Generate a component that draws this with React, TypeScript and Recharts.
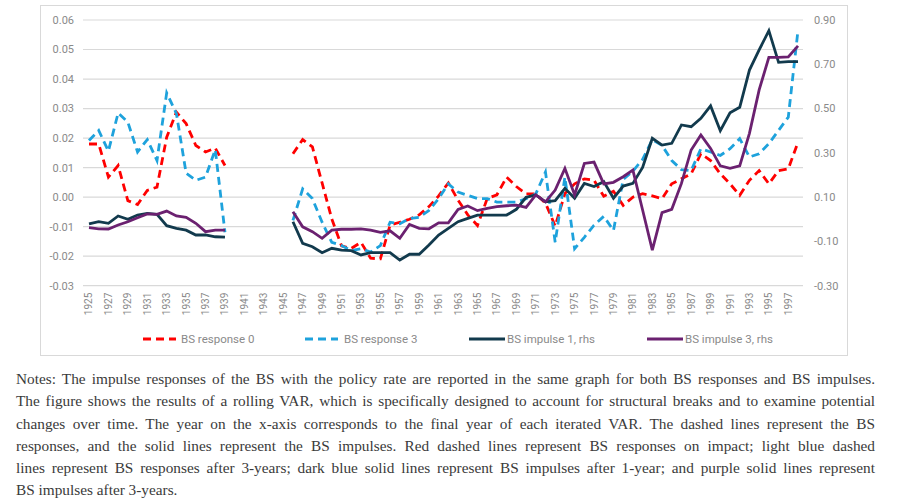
import React from "react";
import { LineChart, Line, XAxis, YAxis, CartesianGrid } from "recharts";

const years: number[] = [
  1925, 1926, 1927, 1928, 1929, 1930, 1931, 1932, 1933, 1934, 1935, 1936, 1937, 1938, 1939,
  1940, 1941, 1942, 1943, 1944, 1945, 1946, 1947, 1948, 1949, 1950, 1951, 1952, 1953, 1954,
  1955, 1956, 1957, 1958, 1959, 1960, 1961, 1962, 1963, 1964, 1965, 1966, 1967, 1968, 1969,
  1970, 1971, 1972, 1973, 1974, 1975, 1976, 1977, 1978, 1979, 1980, 1981, 1982, 1983, 1984,
  1985, 1986, 1987, 1988, 1989, 1990, 1991, 1992, 1993, 1994, 1995, 1996, 1997, 1998,
];

const yearTicks: number[] = [
  1925, 1927, 1929, 1931, 1933, 1935, 1937, 1939, 1941, 1943, 1945, 1947, 1949, 1951, 1953,
  1955, 1957, 1959, 1961, 1963, 1965, 1967, 1969, 1971, 1973, 1975, 1977, 1979, 1981, 1983,
  1985, 1987, 1989, 1991, 1993, 1995, 1997,
];

const bsResponse0: (number | null)[] = [
  0.018, 0.018, 0.0068, 0.0107, -0.0012, -0.0025, 0.0023, 0.0034, 0.0203, 0.0288, 0.0249, 0.0175, 0.0153, 0.0166, 0.0107,
  null, null, null, null, null, null, 0.0147, 0.0195, 0.017, 0.0048, -0.0074, -0.0165, -0.0174, -0.0153, -0.0207,
  -0.0209, -0.0095, -0.0085, -0.0075, -0.006, -0.0032, 0.0004, 0.0048, -0.001, -0.006, -0.0096, -0.0005, 0.0008, 0.0068, 0.0036,
  0.0011, 0.0011, -0.002, -0.0098, 0.0012, 0.0045, 0.0062, 0.0057, 0.0003, 0.002, -0.0028, 0.0, 0.0012, 0.0004, -0.0005,
  0.0045, 0.0062, 0.0079, 0.0147, 0.0124, 0.0079, 0.0045, 0.0006, 0.0057, 0.009, 0.0045, 0.009, 0.0096, 0.0186,
];

const bsResponse3: (number | null)[] = [
  0.0192, 0.0226, 0.0156, 0.0285, 0.0254, 0.0153, 0.0195, 0.0124, 0.0353, 0.0283, 0.0081, 0.0057, 0.0068, 0.0161, -0.0119,
  null, null, null, null, null, null, -0.0079, 0.0028, -0.0005, -0.0085, -0.0153, -0.0164, -0.0181, -0.0175, -0.0186,
  -0.0164, -0.0085, -0.009, -0.0073, -0.0068, -0.0045, -0.0005, 0.0045, 0.0017, 0.0006, -0.0005, -0.0005, -0.0017, -0.0017, -0.0017,
  -0.0005, 0.0011, 0.0085, -0.0153, 0.0068, -0.0175, -0.0136, -0.0095, -0.0065, -0.0113, 0.006, 0.0088, 0.0128, 0.0195, 0.0175,
  0.0124, 0.0093, 0.009, 0.0164, 0.0153, 0.0141, 0.0164, 0.0198, 0.0136, 0.0147, 0.0181, 0.0226, 0.0271, 0.0565,
];

const bsImpulse1: (number | null)[] = [
  -0.021, -0.011, -0.018, 0.015, 0.0, 0.019, 0.027, 0.022, -0.029, -0.041, -0.049, -0.071, -0.071, -0.079, -0.081,
  null, null, null, null, null, null, -0.011, -0.109, -0.124, -0.151, -0.131, -0.139, -0.142, -0.161, -0.151,
  -0.151, -0.151, -0.184, -0.158, -0.158, -0.116, -0.071, -0.041, -0.011, 0.004, 0.019, 0.019, 0.019, 0.019, 0.045,
  0.099, 0.11, 0.079, 0.084, 0.14, 0.095, 0.162, 0.148, 0.17, 0.095, 0.15, 0.162, 0.234, 0.366, 0.335,
  0.343, 0.426, 0.418, 0.456, 0.512, 0.4, 0.481, 0.506, 0.674, 0.765, 0.852, 0.709, 0.712, 0.712,
];

const bsImpulse3: (number | null)[] = [
  -0.038, -0.043, -0.044, -0.026, -0.011, 0.007, 0.024, 0.022, 0.037, 0.015, 0.009, -0.018, -0.056, -0.049, -0.049,
  null, null, null, null, null, null, 0.034, -0.034, -0.056, -0.086, -0.049, -0.045, -0.045, -0.043, -0.049,
  -0.059, -0.052, -0.086, -0.023, -0.041, -0.043, -0.016, -0.016, 0.044, 0.06, 0.039, 0.049, 0.057, 0.061, 0.064,
  0.054, 0.11, 0.079, 0.132, 0.23, 0.11, 0.252, 0.258, 0.16, 0.167, 0.192, 0.222, 0.042, -0.139, 0.03,
  0.045, 0.162, 0.313, 0.381, 0.32, 0.241, 0.23, 0.241, 0.388, 0.584, 0.731, 0.731, 0.733, 0.783,
];

const leftTicks: number[] = [0.06, 0.05, 0.04, 0.03, 0.02, 0.01, 0, -0.01, -0.02, -0.03];
const rightTicks: number[] = [0.9, 0.7, 0.5, 0.3, 0.1, -0.1, -0.3];

const seriesNames = ["BS response 0", "BS response 3", "BS impulse 1, rhs", "BS impulse 3, rhs"];

const noteLines: string[] = [
  "Notes: The impulse responses of the BS with the policy rate are reported in the same graph for both BS responses and BS impulses.",
  "The figure shows the results of a rolling VAR, which is specifically designed to account for structural breaks and to examine potential",
  "changes over time. The year on the x-axis corresponds to the final year of each iterated VAR. The dashed lines represent the BS",
  "responses, and the solid lines represent the BS impulses. Red dashed lines represent BS responses on impact; light blue dashed",
  "lines represent BS responses after 3-years; dark blue solid lines represent BS impulses after 1-year; and purple solid lines represent",
  "BS impulses after 3-years.",
];

const data = years.map((y, i) => ({
  year: y,
  r0: bsResponse0[i],
  r3: bsResponse3[i],
  i1: bsImpulse1[i],
  i3: bsImpulse3[i],
}));

const RED = "#ff0000";
const BLUE = "#1ea2dc";
const DARK = "#123a4d";
const PURPLE = "#6b2170";
const TICK = "#8a8a8a";
const FONT = "Roboto, 'Liberation Sans', sans-serif";

const XTick = (props: any) => {
  const { x, y, payload } = props;
  return (
    <text
      x={x}
      y={y}
      transform={`rotate(-90 ${x} ${y})`}
      textAnchor="end"
      dominantBaseline="central"
      fill={TICK}
      fontSize={10}
      fontFamily={FONT}
    >
      {payload.value}
    </text>
  );
};

const legendItems = [
  { name: seriesNames[0], color: RED, dash: "8 5", sx: 143, tx: 181 },
  { name: seriesNames[1], color: BLUE, dash: "8 5", sx: 305, tx: 344 },
  { name: seriesNames[2], color: DARK, dash: undefined, sx: 469, tx: 507 },
  { name: seriesNames[3], color: PURPLE, dash: undefined, sx: 647, tx: 685 },
];

export default function App() {
  return (
    <div style={{ position: "absolute", left: 0, top: 0, width: 901, height: 504, background: "#fff" }}>
      <div
        style={{
          position: "absolute",
          left: 40,
          top: 5,
          width: 806,
          height: 349,
          border: "1px solid #d9d9d9",
          boxSizing: "content-box",
        }}
      />
      <div style={{ position: "absolute", left: 0, top: 0 }}>
        <LineChart width={901} height={360} data={data} margin={{ top: 20, right: 53, bottom: 34.3, left: 40 }}>
          <CartesianGrid yAxisId="left" vertical={false} stroke="#d9d9d9" strokeWidth={1.2} />
          <XAxis
            dataKey="year"
            type="category"
            ticks={yearTicks}
            interval={0}
            axisLine={false}
            tickLine={false}
            tickSize={0}
            tickMargin={7}
            height={40}
            padding={{ left: 6, right: 5 }}
            tick={<XTick />}
          />
          <YAxis
            yAxisId="left"
            orientation="left"
            domain={[-0.03, 0.06]}
            ticks={leftTicks}
            interval={0}
            width={43}
            axisLine={false}
            tickLine={false}
            tickSize={0}
            tickMargin={9}
            tickFormatter={(v: number) => v.toFixed(2)}
            tick={{ fill: TICK, fontSize: 11, fontFamily: FONT }}
          />
          <YAxis
            yAxisId="right"
            orientation="right"
            domain={[-0.3, 0.9]}
            ticks={rightTicks}
            interval={0}
            width={45}
            axisLine={false}
            tickLine={false}
            tickSize={0}
            tickMargin={11}
            tickFormatter={(v: number) => v.toFixed(2)}
            tick={{ fill: TICK, fontSize: 11, fontFamily: FONT }}
          />
          <Line yAxisId="left" type="linear" dataKey="r0" name={seriesNames[0]} stroke={RED} strokeWidth={2.8} strokeDasharray="8 5" dot={false} isAnimationActive={false} />
          <Line yAxisId="left" type="linear" dataKey="r3" name={seriesNames[1]} stroke={BLUE} strokeWidth={2.8} strokeDasharray="8 5" dot={false} isAnimationActive={false} />
          <Line yAxisId="right" type="linear" dataKey="i1" name={seriesNames[2]} stroke={DARK} strokeWidth={2.8} dot={false} isAnimationActive={false} />
          <Line yAxisId="right" type="linear" dataKey="i3" name={seriesNames[3]} stroke={PURPLE} strokeWidth={2.8} dot={false} isAnimationActive={false} />
        </LineChart>
      </div>
      {legendItems.map((it) => (
        <div key={it.name}>
          <svg style={{ position: "absolute", left: it.sx, top: 335 }} width={36} height={8}>
            <line x1={0} y1={4} x2={it.dash ? 33 : 36} y2={4} stroke={it.color} strokeWidth={3} strokeDasharray={it.dash} />
          </svg>
          <div
            style={{
              position: "absolute",
              left: it.tx,
              top: 331,
              fontSize: 11.5,
              lineHeight: "16px",
              color: TICK,
              fontFamily: FONT,
              whiteSpace: "nowrap",
            }}
          >
            {it.name}
          </div>
        </div>
      ))}
      <div
        style={{
          position: "absolute",
          left: 16,
          top: 368,
          width: 859,
          fontFamily: "'Liberation Serif', 'DejaVu Serif', serif",
          fontSize: 15.3,
          lineHeight: "22.3px",
          color: "#3a3a3a",
        }}
      >
        {noteLines.map((line, i) => (
          <div
            key={i}
            style={{
              textAlign: i < noteLines.length - 1 ? "justify" : "left",
              textAlignLast: i < noteLines.length - 1 ? "justify" : "left",
              whiteSpace: "nowrap",
            }}
          >
            {line}
          </div>
        ))}
      </div>
    </div>
  );
}
